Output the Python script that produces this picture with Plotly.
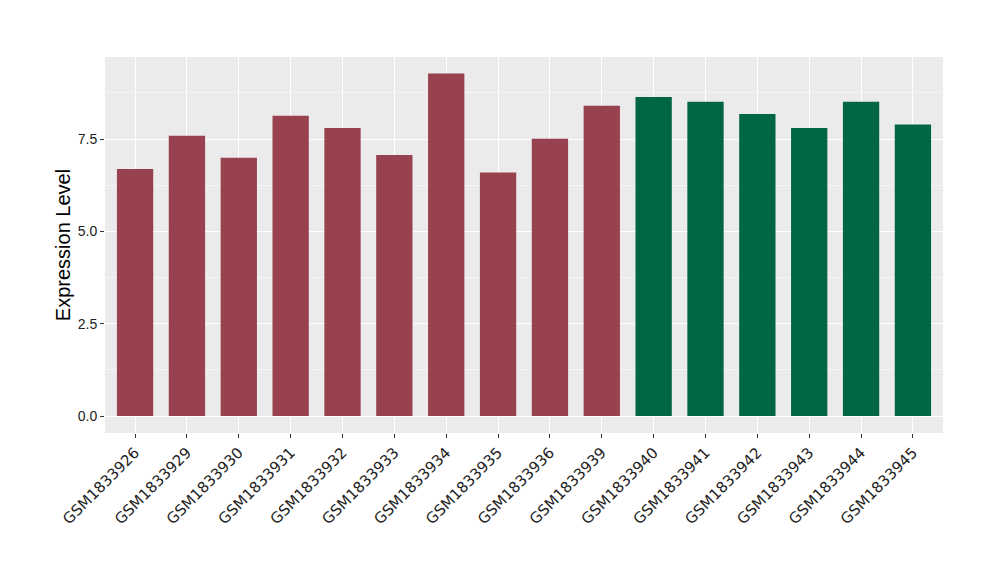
import plotly.graph_objects as go

samples = ["GSM1833926", "GSM1833929", "GSM1833930", "GSM1833931", "GSM1833932",
           "GSM1833933", "GSM1833934", "GSM1833935", "GSM1833936", "GSM1833939",
           "GSM1833940", "GSM1833941", "GSM1833942", "GSM1833943", "GSM1833944",
           "GSM1833945"]
values = [6.69, 7.59, 6.99, 8.13, 7.80, 7.07, 9.27, 6.59, 7.51, 8.40,
          8.64, 8.51, 8.18, 7.80, 8.51, 7.89]
groups = ["A"] * 10 + ["B"] * 6
group_colors = {"A": "#99424F", "B": "#006644"}
y_ticks = [0.0, 2.5, 5.0, 7.5]
y_tick_text = ["0.0", "2.5", "5.0", "7.5"]

fig = go.Figure()
fig.add_trace(go.Bar(
    x=list(range(len(samples))),
    y=values,
    width=0.7,
    marker=dict(color=[group_colors[g] for g in groups], line=dict(width=0)),
    showlegend=False,
))

fig.update_layout(
    width=1000, height=580,
    margin=dict(l=97, r=65, t=49, b=155, autoexpand=False),
    paper_bgcolor="white",
    plot_bgcolor="#EBEBEB",
    font=dict(family="Liberation Sans, Arial, sans-serif", color="#222222"),
)
fig.update_xaxes(
    range=[-0.58, 15.58],
    tickmode="array",
    tickvals=list(range(len(samples))),
    ticktext=samples,
    tickangle=-45,
    tickfont=dict(family="DejaVu Sans", size=15, color="#222222"),
    showgrid=True, gridcolor="white", gridwidth=1.3,
    ticks="outside", ticklen=4, tickcolor="#333333", tickwidth=1,
    zeroline=False, showline=False, automargin=False,
)
fig.update_yaxes(
    range=[-0.46, 9.72],
    tickmode="array",
    tickvals=y_ticks,
    ticktext=y_tick_text,
    tickfont=dict(family="Liberation Sans, Arial, sans-serif", size=14, color="#222222"),
    showgrid=True, gridcolor="white", gridwidth=1.3,
    minor=dict(tickvals=[1.25, 3.75, 6.25, 8.75], showgrid=True, gridcolor="#F5F5F5", gridwidth=0.7),
    ticks="outside", ticklen=4, tickcolor="#333333", tickwidth=1,
    zeroline=False, showline=False, automargin=False,
    title=dict(text="Expression Level", font=dict(size=20, color="black"), standoff=1),
)

fig.write_html("out.html")
